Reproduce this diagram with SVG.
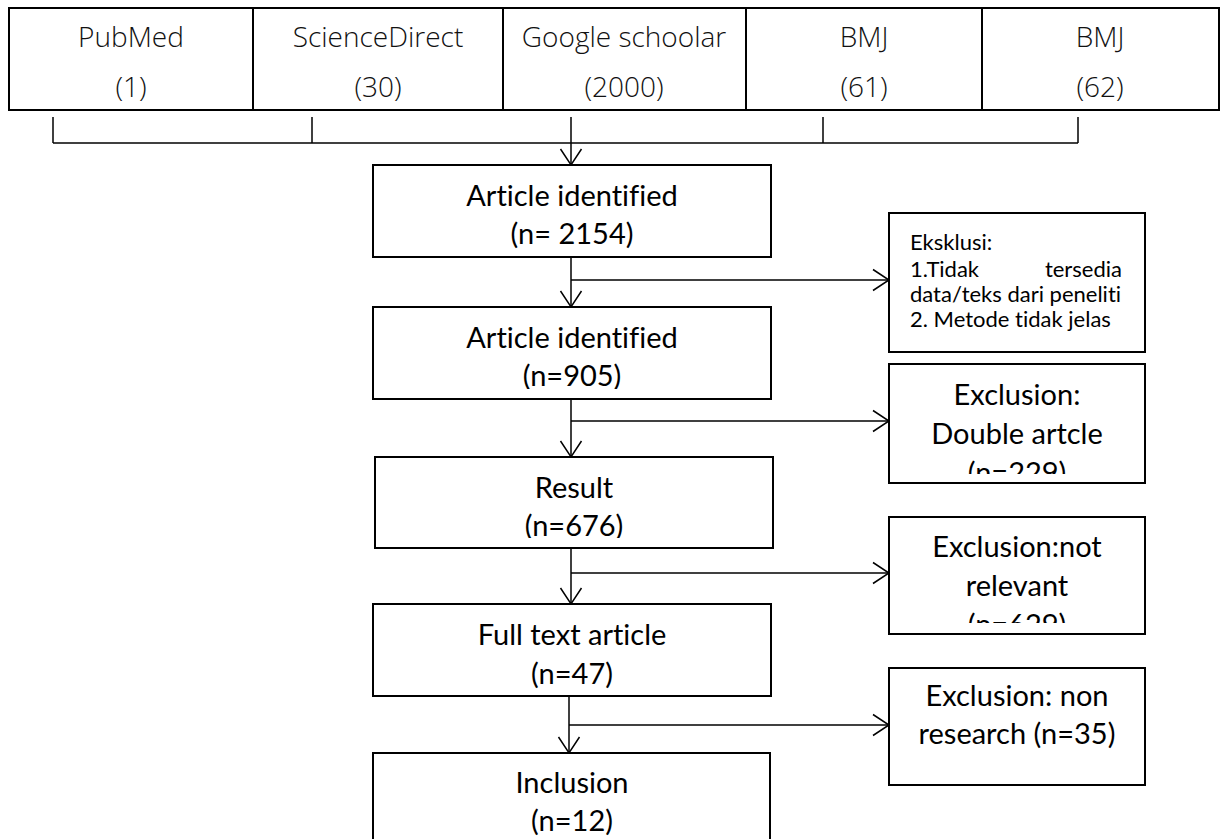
<svg xmlns="http://www.w3.org/2000/svg" width="1221" height="839" viewBox="0 0 1221 839">
<style>
.box{fill:#fff;stroke:#000;stroke-width:2}
.cell{fill:none;stroke:#000;stroke-width:2}
.con{fill:none;stroke:#000;stroke-width:1.5}
.tt{font-family:"Open Sans","Noto Sans",sans-serif;font-weight:350;font-size:28px;fill:#111;text-anchor:middle}
.mt{font-family:Lato,"Noto Sans",sans-serif;font-size:29px;fill:#000;text-anchor:middle;font-variant-ligatures:none}
.st{font-family:Lato,"Noto Sans",sans-serif;font-size:22px;fill:#000;font-variant-ligatures:none}
</style>
<defs>
<marker id="ah" markerUnits="userSpaceOnUse" markerWidth="20" markerHeight="24" refX="17" refY="11" orient="auto" overflow="visible">
<path d="M1,0.5 L17,11 L1,21.5" fill="none" stroke="#000" stroke-width="1.5"/>
</marker>
<clipPath id="c2"><rect x="373" y="307" width="398" height="82"/></clipPath>
<clipPath id="c3"><rect x="375" y="457" width="398" height="81"/></clipPath>
<clipPath id="cr2"><rect x="889" y="364" width="256" height="110"/></clipPath>
<clipPath id="cr3"><rect x="889" y="517" width="256" height="106"/></clipPath>
</defs>
<rect width="1221" height="839" fill="#fff"/>

<g id="sources">
<rect class="cell" x="9" y="8" width="1210" height="102"/>
<line class="cell" x1="253" y1="8" x2="253" y2="110"/>
<line class="cell" x1="503" y1="8" x2="503" y2="110"/>
<line class="cell" x1="746" y1="8" x2="746" y2="110"/>
<line class="cell" x1="982" y1="8" x2="982" y2="110"/>
<g id="src-pubmed"><text class="tt" x="131" y="47">PubMed</text><text class="tt" x="131" y="97">(1)</text></g>
<g id="src-sciencedirect"><text class="tt" x="378" y="47">ScienceDirect</text><text class="tt" x="378" y="97">(30)</text></g>
<g id="src-google"><text class="tt" x="624" y="47">Google schoolar</text><text class="tt" x="624" y="97">(2000)</text></g>
<g id="src-bmj1"><text class="tt" x="864" y="47">BMJ</text><text class="tt" x="864" y="97">(61)</text></g>
<g id="src-bmj2"><text class="tt" x="1100" y="47">BMJ</text><text class="tt" x="1100" y="97">(62)</text></g>
</g>

<g id="connectors">
<line class="con" x1="53" y1="117" x2="53" y2="143"/>
<line class="con" x1="312" y1="117" x2="312" y2="143"/>
<line class="con" x1="823" y1="117" x2="823" y2="143"/>
<line class="con" x1="1078" y1="117" x2="1078" y2="143"/>
<line class="con" x1="53" y1="143" x2="1078" y2="143"/>
<line class="con" x1="571" y1="117" x2="571" y2="165" marker-end="url(#ah)"/>
<line class="con" x1="571" y1="257" x2="571" y2="307" marker-end="url(#ah)"/>
<line class="con" x1="571" y1="280" x2="889" y2="280" marker-end="url(#ah)"/>
<line class="con" x1="571" y1="399" x2="571" y2="457" marker-end="url(#ah)"/>
<line class="con" x1="571" y1="421" x2="889" y2="421" marker-end="url(#ah)"/>
<line class="con" x1="571" y1="548" x2="571" y2="604" marker-end="url(#ah)"/>
<line class="con" x1="571" y1="573" x2="889" y2="573" marker-end="url(#ah)"/>
<line class="con" x1="569" y1="696" x2="569" y2="753" marker-end="url(#ah)"/>
<line class="con" x1="569" y1="725" x2="889" y2="725" marker-end="url(#ah)"/>
</g>

<g id="n-identified1">
<rect class="box" x="373" y="165" width="398" height="92"/>
<text class="mt" x="572" y="206">Article identified</text>
<text class="mt" x="572" y="244">(n= 2154)</text>
</g>
<g id="n-identified2">
<rect class="box" x="373" y="307" width="398" height="92"/>
<g clip-path="url(#c2)">
<text class="mt" x="572" y="348">Article identified</text>
<text class="mt" x="572" y="386">(n=905)</text>
</g>
</g>
<g id="n-result">
<rect class="box" x="375" y="457" width="398" height="91"/>
<g clip-path="url(#c3)">
<text class="mt" x="574" y="498">Result</text>
<text class="mt" x="574" y="536">(n=676)</text>
</g>
</g>
<g id="n-fulltext">
<rect class="box" x="373" y="604" width="398" height="92"/>
<text class="mt" x="572" y="645">Full text article</text>
<text class="mt" x="572" y="684">(n=47)</text>
</g>
<g id="n-inclusion">
<rect class="box" x="373" y="753" width="397" height="100"/>
<text class="mt" x="572" y="793">Inclusion</text>
<text class="mt" x="572" y="831">(n=12)</text>
</g>

<g id="x-eksklusi">
<rect class="box" x="889" y="213" width="256" height="139"/>
<text class="st" x="910" y="250">Eksklusi:</text>
<text class="st" x="910" y="277">1.Tidak</text>
<text class="st" x="1122" y="277" text-anchor="end">tersedia</text>
<text class="st" x="910" y="302">data/teks dari peneliti</text>
<text class="st" x="910" y="327">2. Metode tidak jelas</text>
</g>
<g id="x-double">
<rect class="box" x="889" y="364" width="256" height="119"/>
<g clip-path="url(#cr2)">
<text class="mt" x="1017" y="405">Exclusion:</text>
<text class="mt" x="1017" y="444">Double artcle</text>
<text class="mt" x="1017" y="483">(n=229)</text>
</g>
</g>
<g id="x-notrelevant">
<rect class="box" x="889" y="517" width="256" height="117"/>
<g clip-path="url(#cr3)">
<text class="mt" x="1017" y="557">Exclusion:not</text>
<text class="mt" x="1017" y="596">relevant</text>
<text class="mt" x="1017" y="635">(n=629)</text>
</g>
</g>
<g id="x-nonresearch">
<rect class="box" x="889" y="668" width="256" height="117"/>
<text class="mt" x="1017" y="706">Exclusion: non</text>
<text class="mt" x="1017" y="744">research (n=35)</text>
</g>
</svg>
